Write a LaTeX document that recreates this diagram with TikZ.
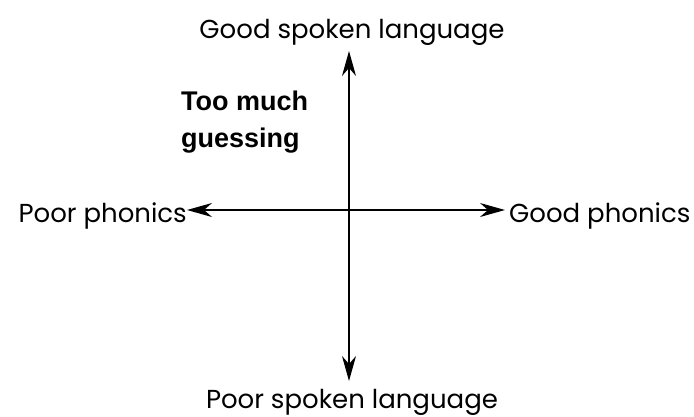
\documentclass[tikz,border=0pt]{standalone}
\usepackage{fontspec}
\setmainfont{Poppins}
\newfontfamily\boldsans{Liberation Sans}
\usetikzlibrary{arrows.meta}
\begin{document}
\begin{tikzpicture}[x=1pt,y=-1pt,
  axis/.style={line width=1.3pt,{Stealth[length=25pt,width=14pt,inset=8pt]}-{Stealth[length=25pt,width=14pt,inset=8pt]}},
  lbl/.style={font=\fontsize{26}{30}\selectfont, inner sep=0pt, anchor=base},
  note/.style={font=\boldsans\bfseries\fontsize{27}{37}\selectfont, align=left, inner sep=0pt}]
\useasboundingbox (0,0) rectangle (694,416);
\node[lbl] (top) at (352,38) {Good spoken language};
\node[lbl] (bot) at (352,408) {Poor spoken language};
\node[lbl,anchor=base east] (left) at (187,222) {Poor phonics};
\node[lbl,anchor=base west] (right) at (509,222) {Good phonics};
\node[note,anchor=base west] (guess) at (181,147) {Too much\\guessing};
\coordinate (t) at (349,51);
\coordinate (b) at (349,381);
\coordinate (l) at (187,210);
\coordinate (r) at (505,210);
\draw[axis] (b) -- (t);
\draw[axis] (l) -- (r);
\end{tikzpicture}
\end{document}
